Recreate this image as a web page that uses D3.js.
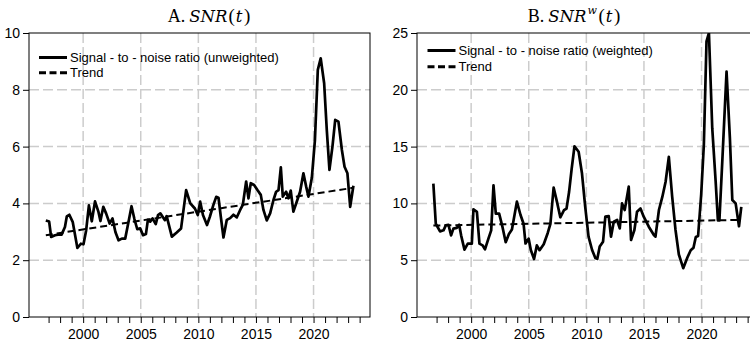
<!DOCTYPE html>
<html>
<head>
<meta charset="utf-8">
<script src="https://cdn.jsdelivr.net/npm/d3@7"></script>
<style>
  body { margin: 0; background: #fff; }
  svg { display: block; }
</style>
</head>
<body>
<svg id="chart" width="750" height="344"></svg>
<script>
// Panel A: unweighted signal-to-noise ratio
const datesA = [1996.76,1997.05,1997.22,1997.56,1997.93,1998.13,1998.42,1998.58,1998.80,1999.10,1999.50,1999.80,2000.03,2000.26,2000.50,2000.75,2001.03,2001.33,2001.50,2001.75,2002.00,2002.30,2002.55,2002.80,2003.07,2003.36,2003.65,2003.94,2004.20,2004.45,2004.70,2004.95,2005.20,2005.45,2005.62,2005.82,2006.02,2006.30,2006.50,2006.70,2006.90,2007.10,2007.25,2007.70,2008.10,2008.50,2008.94,2009.30,2009.70,2009.95,2010.16,2010.40,2010.75,2011.00,2011.30,2011.55,2011.75,2011.95,2012.18,2012.47,2012.76,2013.05,2013.34,2013.63,2013.86,2014.15,2014.35,2014.55,2014.84,2015.13,2015.42,2015.65,2015.94,2016.23,2016.52,2016.75,2016.96,2017.16,2017.33,2017.62,2017.82,2018.02,2018.25,2018.54,2018.83,2019.12,2019.36,2019.56,2019.85,2020.12,2020.37,2020.62,2020.92,2021.15,2021.38,2021.64,2021.88,2022.16,2022.46,2022.69,2022.94,2023.18,2023.46];
const snrA = [3.40,3.36,2.82,2.88,2.91,2.90,3.17,3.54,3.60,3.34,2.43,2.58,2.56,3.05,3.93,3.37,4.07,3.70,3.38,3.88,3.64,3.29,3.47,2.99,2.70,2.76,2.76,3.35,3.90,3.45,3.09,3.12,2.88,2.92,3.42,3.36,3.47,3.27,3.59,3.65,3.53,3.41,3.55,2.83,2.97,3.12,4.47,4.00,3.82,3.59,4.06,3.59,3.24,3.53,3.94,4.23,4.20,3.53,2.80,3.42,3.48,3.60,3.51,3.77,3.95,4.77,4.18,4.71,4.65,4.47,4.30,3.77,3.40,3.65,4.12,4.41,4.47,5.27,4.24,4.41,4.18,4.45,3.71,4.06,4.41,5.06,4.59,4.24,4.90,6.23,8.70,9.11,8.23,6.58,5.18,6.00,6.94,6.88,5.88,5.29,5.06,3.88,4.62];
const trendDatesA = [1996.76, 2023.46];
const trendA = [2.88, 4.55];

// Panel B: weighted signal-to-noise ratio
const datesB = [1996.72,1996.93,1997.30,1997.60,1997.80,1998.03,1998.26,1998.46,1998.75,1998.96,1999.13,1999.42,1999.71,2000.06,2000.20,2000.50,2000.72,2000.99,2001.20,2001.50,2001.74,2001.94,2002.14,2002.43,2002.72,2003.00,2003.28,2003.54,2003.97,2004.28,2004.55,2004.72,2004.99,2005.18,2005.46,2005.70,2005.94,2006.30,2006.65,2006.88,2007.16,2007.45,2007.74,2008.06,2008.28,2008.50,2008.72,2008.97,2009.33,2009.62,2009.90,2010.19,2010.50,2010.78,2010.95,2011.16,2011.45,2011.65,2011.94,2012.14,2012.38,2012.67,2012.90,2013.10,2013.33,2013.68,2013.88,2014.17,2014.40,2014.70,2014.98,2015.42,2015.86,2016.00,2016.30,2016.60,2016.88,2017.16,2017.45,2017.74,2018.03,2018.41,2018.77,2019.06,2019.30,2019.50,2019.70,2019.97,2020.20,2020.43,2020.64,2020.93,2021.22,2021.42,2021.55,2021.80,2022.17,2022.46,2022.67,2022.96,2023.25,2023.45];
const snrB = [11.74,8.21,7.54,7.63,8.07,8.12,7.19,7.78,7.84,8.12,7.19,5.93,6.46,6.46,9.48,9.25,6.46,6.31,5.96,6.90,7.63,11.59,9.10,9.10,7.93,6.58,7.30,7.70,10.15,9.00,8.21,6.47,6.90,5.90,5.10,6.30,5.88,6.40,7.40,8.20,11.40,10.13,8.78,9.40,9.55,11.00,13.00,15.03,14.55,12.65,9.72,7.08,5.90,5.20,5.12,6.20,6.63,8.83,8.89,7.07,8.39,8.54,7.80,10.00,9.42,11.47,6.78,7.66,9.27,9.56,8.83,7.95,7.22,7.07,9.42,10.59,11.91,14.10,10.59,7.66,5.50,4.30,5.24,5.88,6.10,7.04,7.13,10.80,15.17,24.27,25.00,16.60,12.00,8.50,8.50,13.70,21.60,15.75,10.30,10.00,7.99,9.70];
const trendDatesB = [1996.72, 2023.45];
const trendB = [8.05, 8.55];

// Axis ticks
const yTicksA = [0, 2, 4, 6, 8, 10];
const yTicksB = [0, 5, 10, 15, 20, 25];
const xLabelYears = [2000, 2005, 2010, 2015, 2020];
const xMinorYears = d3.range(1997, 2025);

const svg = d3.select("#chart");
svg.append("rect").attr("width", 750).attr("height", 344).attr("fill", "#fff");

const panels = [
  {
    id: "a", left: 29, top: 33, width: 341, height: 284,
    dates: datesA, values: snrA, trendDates: trendDatesA, trend: trendA,
    yMax: 10, yTicks: yTicksA,
    legendX: 39, legendY: 57.5, legendGap: 15.3,
    label: "Signal - to - noise ratio (unweighted)",
    title: { letter: "A.", center: 209, sup: null }
  },
  {
    id: "b", left: 417, top: 33, width: 341, height: 284,
    dates: datesB, values: snrB, trendDates: trendDatesB, trend: trendB,
    yMax: 25, yTicks: yTicksB,
    legendX: 427.5, legendY: 50.5, legendGap: 16.3,
    label: "Signal - to - noise ratio (weighted)",
    title: { letter: "B.", center: 574, sup: "w" }
  }
];

const roman = "'Liberation Serif', 'Times New Roman', serif";
const mathItalic = "'DejaVu Serif', serif";

panels.forEach(p => {
  const x = d3.scaleLinear().domain([1995.3, 2024.9]).range([p.left, p.left + p.width]);
  const y = d3.scaleLinear().domain([0, p.yMax]).range([p.top + p.height, p.top]);
  const g = svg.append("g");

  // clip region for the plotted series
  svg.append("clipPath").attr("id", "clip-" + p.id)
    .append("rect").attr("x", p.left).attr("y", p.top)
    .attr("width", p.width).attr("height", p.height);

  // grid
  const grid = g.append("g").attr("stroke", "#cccccc").attr("stroke-width", 1.5)
    .attr("stroke-dasharray", "10,4");
  grid.selectAll("line.v").data(xLabelYears).join("line")
    .attr("x1", d => x(d)).attr("x2", d => x(d))
    .attr("y1", p.top).attr("y2", p.top + p.height);
  grid.selectAll("line.h").data(p.yTicks.slice(1, -1)).join("line")
    .attr("x1", p.left).attr("x2", p.left + p.width)
    .attr("y1", d => y(d)).attr("y2", d => y(d));

  // x axis: ticks every year, labels every 5 years
  const xAxis = d3.axisBottom(x).tickValues(xMinorYears).tickSize(6).tickPadding(6)
    .tickFormat(d => xLabelYears.includes(d) ? String(d) : "");
  const gx = g.append("g").attr("transform", `translate(0,${p.top + p.height})`).call(xAxis);
  gx.select(".domain").remove();

  const yAxis = d3.axisLeft(y).tickValues(p.yTicks).tickSize(6).tickPadding(3)
    .tickFormat(d3.format("d"));
  const gy = g.append("g").attr("transform", `translate(${p.left},0)`).call(yAxis);
  gy.select(".domain").remove();

  [gx, gy].forEach(ax => {
    ax.selectAll("text").attr("font-family", "'Liberation Sans', Arial, sans-serif")
      .attr("font-size", 14).attr("fill", "#000");
    ax.selectAll("line").attr("stroke", "#000").attr("stroke-width", 1);
  });

  // frame
  g.append("rect").attr("x", p.left).attr("y", p.top)
    .attr("width", p.width).attr("height", p.height)
    .attr("fill", "none").attr("stroke", "#000").attr("stroke-width", 1);

  // series
  const pts = p.dates.map((d, i) => [d, p.values[i]]);
  const line = d3.line().x(d => x(d[0])).y(d => y(d[1]));
  g.append("path").datum(pts)
    .attr("clip-path", `url(#clip-${p.id})`)
    .attr("d", line).attr("fill", "none").attr("stroke", "#000")
    .attr("stroke-width", 2.7).attr("stroke-linejoin", "round");

  const tpts = p.trendDates.map((d, i) => [d, p.trend[i]]);
  g.append("path").datum(tpts)
    .attr("d", line).attr("fill", "none").attr("stroke", "#000")
    .attr("stroke-width", 2).attr("stroke-dasharray", "7,4");

  // legend
  const lg = g.append("g");
  lg.append("line").attr("x1", p.legendX).attr("x2", p.legendX + 28)
    .attr("y1", p.legendY).attr("y2", p.legendY)
    .attr("stroke", "#000").attr("stroke-width", 3);
  lg.append("line").attr("x1", p.legendX).attr("x2", p.legendX + 28)
    .attr("y1", p.legendY + p.legendGap).attr("y2", p.legendY + p.legendGap)
    .attr("stroke", "#000").attr("stroke-width", 3).attr("stroke-dasharray", "7,3.5");
  lg.selectAll("text").data([p.label, "Trend"]).join("text")
    .attr("x", p.legendX + 31)
    .attr("y", (d, i) => p.legendY + i * p.legendGap)
    .attr("dy", "0.36em")
    .attr("font-family", "'Liberation Sans', Arial, sans-serif")
    .attr("font-size", 13).attr("fill", "#000")
    .text(d => d);

  // title: roman letter followed by italic math, laid out left to right
  const t = g.append("g").attr("fill", "#000");
  const parts = [
    { text: p.title.letter, font: roman, size: 18, style: "normal", dy: 0, gap: 4 },
    { text: "SNR", font: mathItalic, size: 16.5, style: "italic", dy: 0, gap: 1 }
  ];
  if (p.title.sup) parts.push({ text: p.title.sup, font: mathItalic, size: 11, style: "italic", dy: -8, gap: 1.5 });
  parts.push({ text: "(", font: roman, size: 19, style: "normal", dy: 0, gap: 1 });
  parts.push({ text: "t", font: mathItalic, size: 16.5, style: "italic", dy: 0, gap: 1.5 });
  parts.push({ text: ")", font: roman, size: 19, style: "normal", dy: 0, gap: 0 });
  let cx = 0;
  parts.forEach(part => {
    const el = t.append("text").attr("x", cx).attr("y", 22 + part.dy)
      .attr("font-family", part.font).attr("font-size", part.size)
      .attr("font-style", part.style).text(part.text);
    cx += el.node().getComputedTextLength() + part.gap;
  });
  t.attr("transform", `translate(${p.title.center - cx / 2},0)`);
});
</script>
</body>
</html>
